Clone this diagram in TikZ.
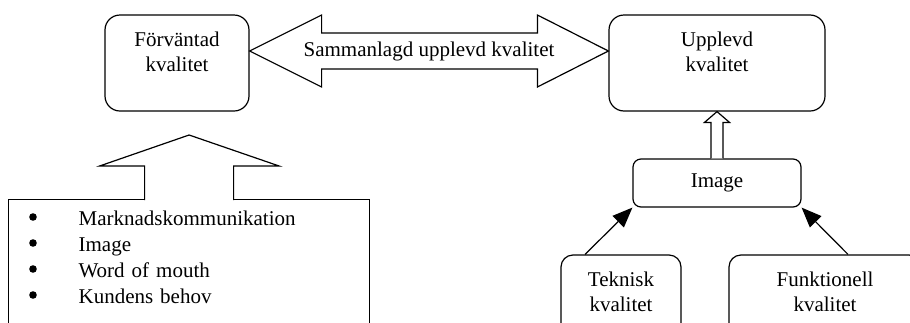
\documentclass[tikz,border=0pt]{standalone}
\usepackage{fontspec}
\setmainfont{Liberation Serif}
\usetikzlibrary{arrows.meta,calc}
\begin{document}
\begin{tikzpicture}[x=1pt,y=-1pt,line width=1.2pt,
 every node/.style={font=\fontsize{21pt}{25pt}\selectfont},
 kvbox/.style={draw,rounded corners=15pt,align=center,minimum height=96pt,inner sep=0pt},
 pil/.style={-{Triangle[length=20pt,width=16pt]}}]
 \useasboundingbox (0,0) rectangle (910,322);
 \clip (0,0) rectangle (910,322);
 \node[kvbox,minimum width=144pt] (forv) at (177,63) {Förväntad\\kvalitet\\[-3pt]\mbox{}};
 \node[kvbox,minimum width=216pt] (uppl) at (717,63) {Upplevd\\kvalitet\\[-3pt]\mbox{}};
 \node[kvbox,rounded corners=8pt,minimum width=168pt,minimum height=48pt] (img) at (717,183) {Image};
 \node[kvbox,rounded corners=12pt,minimum width=120pt] (tekn) at (621,303) {Teknisk\\kvalitet\\[-3pt]\mbox{}};
 \node[kvbox,rounded corners=12pt,minimum width=192pt] (funk) at (825,303) {Funktionell\\kvalitet\\[-3pt]\mbox{}};
 \node[draw,anchor=north west,text width=361pt,inner xsep=0pt,inner ysep=11pt,align=left,
  font=\fontsize{21pt}{26pt}\selectfont] (lista) at (8,199)
  {\hspace*{70pt}Marknadskommunikation\\
   \hspace*{70pt}Image\\
   \hspace*{70pt}Word of mouth\\
   \hspace*{70pt}Kundens behov\\[20pt]\mbox{}};
 \foreach \i in {0,...,3}
  \fill ($(lista.north west)+(25,18+26*\i)$) circle (3.8);
 \filldraw[fill=white] ($(lista.north)+(-44.5,1)$) -- ++(0,-34) -- ++(-45,0) -- ($(lista.north)+(0,-64)$)
  -- ($(lista.north)+(90,-33)$) -- ++(-45.5,0) -- ++(0,34);
 \filldraw[fill=white] ($(img.north)+(-6,0)$) -- ++(0,-36) -- ++(-6.5,0) -- (uppl.south)
  -- ($(img.north)+(12.5,-36)$) -- ++(-6.5,0) -- ++(0,36);
 \coordinate (lt) at ($(forv.east)+(0,-12)$);
 \coordinate (rt) at ($(uppl.west)+(0,-12)$);
 \draw (lt) -- ++(72,-36) -- ++(0,18) -- ($(rt)+(-71,-18)$) -- ++(0,-18) -- (rt) -- ++(-71,36)
  -- ++(0,-18) -- ($(lt)+(72,18)$) -- ++(0,18) -- cycle;
 \node (samman) at ($(lt)!0.5!(rt)$) {Sammanlagd upplevd kvalitet};
 \draw[pil] ($(tekn.north)+(-36,0)$) -- (img.south west);
 \draw[pil] ($(funk.north)+(23,0)$) -- (img.south east);
\end{tikzpicture}
\end{document}
